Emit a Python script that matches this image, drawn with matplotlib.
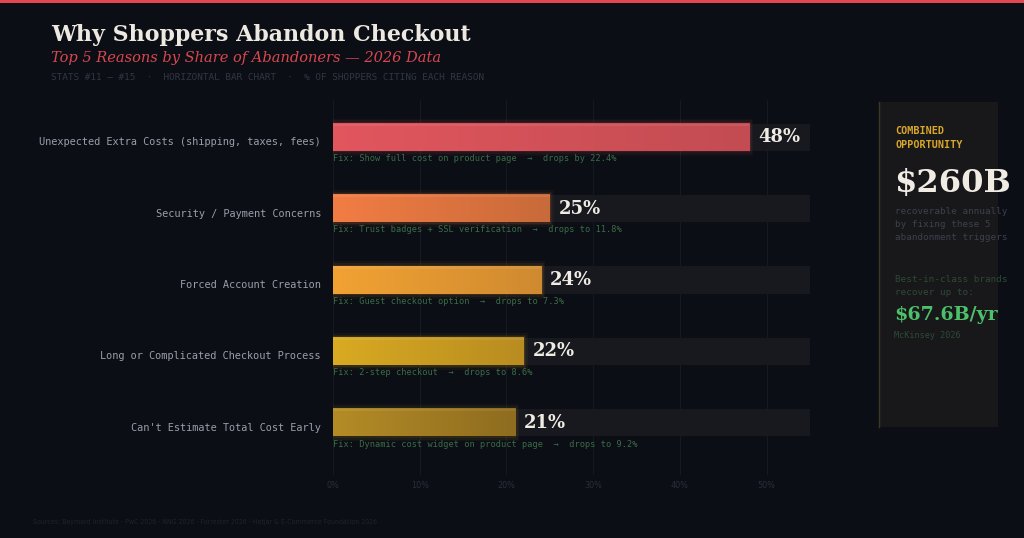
import matplotlib
matplotlib.use("Agg")
import matplotlib.pyplot as plt
import numpy as np
from matplotlib.colors import LinearSegmentedColormap
from matplotlib.transforms import offset_copy

categories = [
    "Unexpected Extra Costs (shipping, taxes, fees)",
    "Security / Payment Concerns",
    "Forced Account Creation",
    "Long or Complicated Checkout Process",
    "Can't Estimate Total Cost Early",
]
values = [48, 25, 24, 22, 21]
fixes = [
    "Fix: Show full cost on product page  \u2192  drops by 22.4%",
    "Fix: Trust badges + SSL verification  \u2192  drops to 11.8%",
    "Fix: Guest checkout option  \u2192  drops to 7.3%",
    "Fix: 2-step checkout  \u2192  drops to 8.6%",
    "Fix: Dynamic cost widget on product page  \u2192  drops to 9.2%",
]
colors_left = ["#e2565e", "#f27d44", "#f2a233", "#d9aa22", "#b48c26"]
colors_right = ["#c24c52", "#c86a3a", "#cf8a30", "#b88c20", "#8e6c20"]
xticks = [0, 10, 20, 30, 40, 50]
xticklabels = ["0%", "10%", "20%", "30%", "40%", "50%"]

BG = "#0b0e15"
W, H = 1024, 538
fig = plt.figure(figsize=(W / 100, H / 100), dpi=100, facecolor=BG)

# top red line
fig.add_artist(plt.Rectangle((0, 1 - 3 / H), 1, 3 / H, transform=fig.transFigure,
                             color="#e0474f", lw=0))

# right panel
px0, px1, py0, py1 = 879, 998, 102, 427
fig.add_artist(plt.Rectangle((px0 / W, 1 - py1 / H), (px1 - px0) / W, (py1 - py0) / H,
                             transform=fig.transFigure, color="#18181b", lw=0))
fig.add_artist(plt.Line2D([px0 / W, px0 / W], [1 - py1 / H, 1 - py0 / H],
                          transform=fig.transFigure, color="#3a3926", lw=1))

# axes
ax_l, ax_r, ax_t, ax_b = 333, 810, 100, 475
ax = fig.add_axes([ax_l / W, 1 - ax_b / H, (ax_r - ax_l) / W, (ax_b - ax_t) / H])
ax.set_facecolor("none")
xmax = 55
ylim_top, ylim_bot = -0.52, 4.73
for s in ax.spines.values():
    s.set_visible(False)

ax.set_xticks(xticks)
ax.set_xticklabels(xticklabels, fontfamily="DejaVu Sans", fontstretch="condensed",
                   fontsize=6.5, color="#2a2f3d")
ax.tick_params(axis="x", length=0, pad=4)
ax.set_yticks([])
for xt in xticks:
    ax.axvline(xt, color="#151920", lw=0.8, zorder=0)

bh = 0.38
ypos = np.arange(len(categories))
# tracks
ax.barh(ypos, [xmax] * len(categories), height=bh, color="#17191f", zorder=1, lw=0)

lab_tr = offset_copy(ax.get_yaxis_transform(), fig=fig, x=-12, y=-5, units="dots")
for i, (v, cl, cr) in enumerate(zip(values, colors_left, colors_right)):
    ax.text(0, i, categories[i], transform=lab_tr, fontfamily="DejaVu Sans Mono",
            fontsize=7.4, color="#9a9eab", va="center", ha="right")
    # glow
    for k, a in [(1.0, 0.05), (0.65, 0.07), (0.35, 0.10)]:
        ax.barh(i, v + k * 0.9, left=-k * 0.45, height=bh + k * 0.14, color=cl, alpha=a,
                zorder=2, lw=0)
    cmap = LinearSegmentedColormap.from_list("g%d" % i, [cl, cr])
    grad = np.linspace(0, 1, 256).reshape(1, -1)
    ax.imshow(grad, cmap=cmap, aspect="auto", extent=(0, v, i + bh / 2, i - bh / 2),
              zorder=3, interpolation="bilinear")
    # highlight strip at top
    ax.barh(i - bh / 2 + 0.015, v, height=0.03, color="white", alpha=0.08, zorder=4, lw=0)
    ax.text(v + 1.0, i, f"{v}%", fontfamily="DejaVu Serif", fontweight="bold",
            fontsize=13, color="#f0ece4", va="center", ha="left", zorder=5)
    ax.text(0, i + 0.30, fixes[i], fontfamily="DejaVu Sans Mono", fontsize=6.2,
            color="#3b6c47", va="center", ha="left", zorder=5)

ax.set_xlim(0, xmax)
ax.set_ylim(ylim_bot, ylim_top)

# titles
def ftext(x, y, s, **kw):
    fig.text(x / W, 1 - y / H, s, **kw)

ftext(51, 35, "Why Shoppers Abandon Checkout", fontfamily="DejaVu Serif", fontweight="bold",
      fontsize=15.9, color="#ede9e1", va="center", ha="left")
ftext(51, 58, "Top 5 Reasons by Share of Abandoners \u2014 2026 Data", fontfamily="DejaVu Serif",
      style="italic", fontsize=10.5, color="#d9474f", va="center", ha="left")
ftext(51, 78, "STATS #11 \u2013 #15  \u00b7  HORIZONTAL BAR CHART  \u00b7  % OF SHOPPERS CITING EACH REASON",
      fontfamily="DejaVu Sans Mono", fontsize=6.75, color="#313644", va="center", ha="left")

# panel text
ftext(895, 131, "COMBINED", fontfamily="DejaVu Sans Mono", fontweight="bold", fontsize=7.3,
      color="#d9a82a", va="center")
ftext(895, 145, "OPPORTUNITY", fontfamily="DejaVu Sans Mono", fontweight="bold", fontsize=7.3,
      color="#d9a82a", va="center")
ftext(894, 184, "$260B", fontfamily="DejaVu Serif", fontweight="bold", fontsize=23.2,
      color="#f0ece4", va="center")
for j, s in enumerate(["recoverable annually", "by fixing these 5", "abandonment triggers"]):
    ftext(895, 211 + j * 13.5, s, fontfamily="DejaVu Sans Mono", fontsize=6.7,
          color="#3d414d", va="center")
for j, s in enumerate(["Best-in-class brands", "recover up to:"]):
    ftext(895, 279 + j * 13.5, s, fontfamily="DejaVu Sans Mono", fontsize=6.7,
          color="#2d4a35", va="center")
ftext(894, 315, "$67.6B/yr", fontfamily="DejaVu Serif", fontweight="bold", fontsize=13.7,
      color="#4cc16a", va="center")
ftext(894, 335, "McKinsey 2026", fontfamily="DejaVu Sans Mono", fontsize=6.1,
      color="#2d4a35", va="center")

ftext(33, 522, "Sources: Baymard Institute \u00b7 PwC 2026 \u00b7 NNG 2026 \u00b7 Forrester 2026 \u00b7 Hotjar & E-Commerce Foundation 2026",
      fontfamily="DejaVu Sans", fontstretch="condensed", fontsize=5.0, color="#1f232d",
      va="center", ha="left")

fig.savefig("out.png", dpi=100, facecolor=BG)
